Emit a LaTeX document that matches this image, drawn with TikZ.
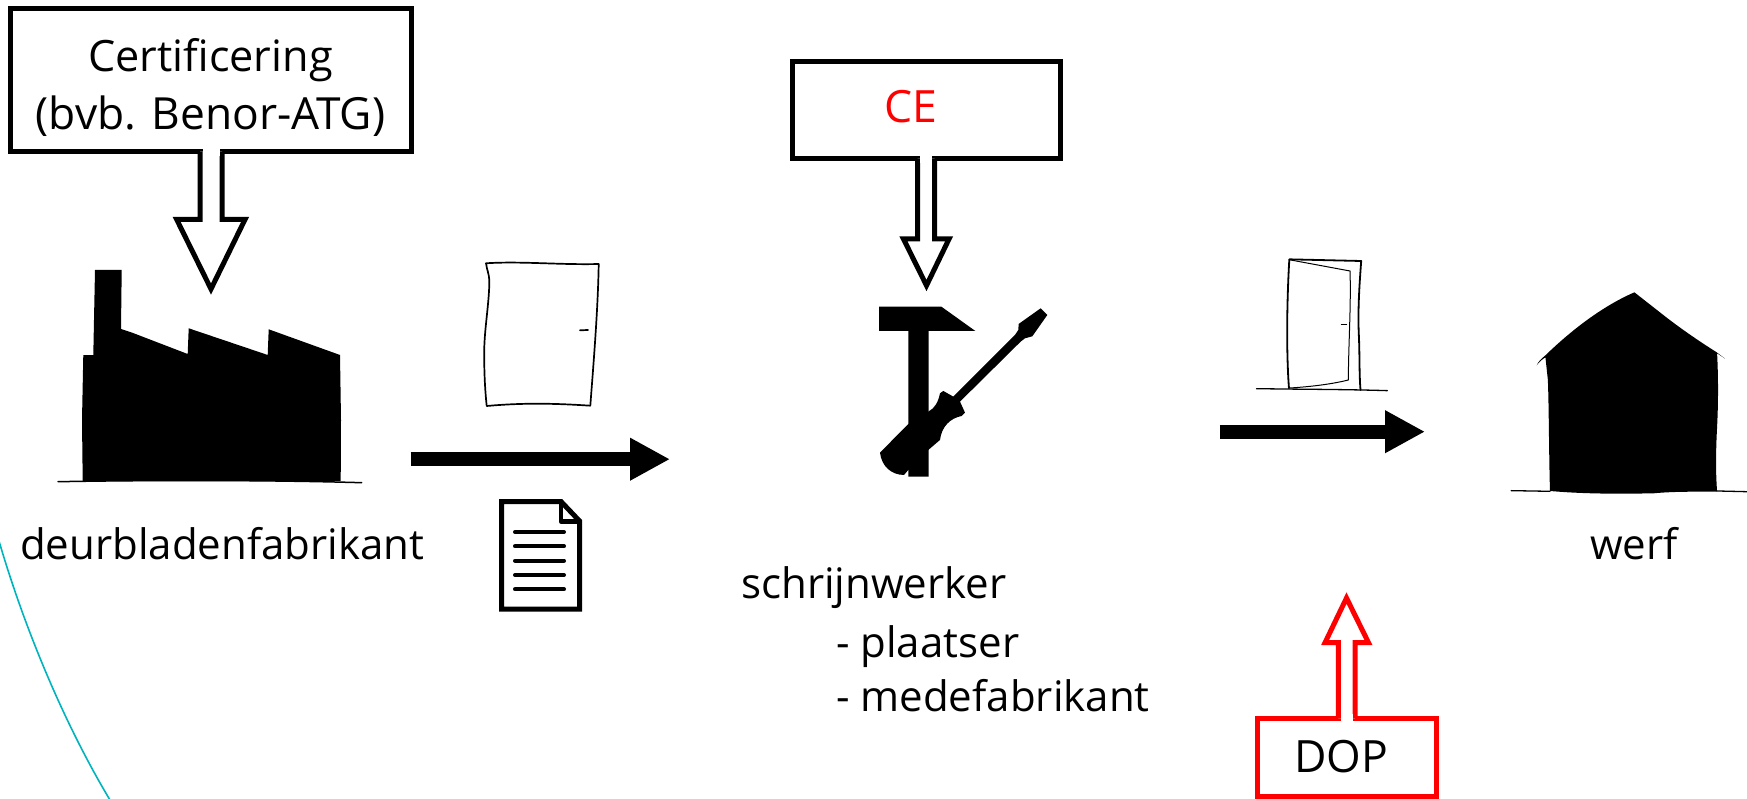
\documentclass[tikz,border=0pt]{standalone}
\usepackage{fontspec}
\setmainfont{Open Sans}
\usetikzlibrary{arrows.meta,calc}
\definecolor{arcteal}{HTML}{00B4BE}
\tikzset{
  calloutbox/.style={draw=#1,line width=5pt,fill=white,inner sep=0pt,outer sep=0pt},
  hollowarrow/.style={draw=#1,line width=5pt,fill=white,miter limit=10,line join=miter},
  flowarrow/.style={line width=13.6pt,-{Triangle[length=40pt,width=40pt]},black},
  labeltext/.style={inner sep=0pt,anchor=base west,font=\fontsize{42}{50}\selectfont},
  labelmid/.style={inner sep=0pt,anchor=base,font=\fontsize{44.5}{50}\selectfont},
  glyph/.style={fill=black,draw=none},
  sketch/.style={draw=black,line width=#1,line join=round,line cap=round,fill=none}
}
\begin{document}
\begin{tikzpicture}[x=1pt,y=-1pt]
\useasboundingbox (0,0) rectangle (1747,799);
% teal arc
\coordinate (arcstart) at (-1,541);
\coordinate (arcend) at (110,800);
\draw[arcteal,line width=1.6pt] (arcstart) .. controls (25,630) and (65,725) .. (arcend);

% Certification callout
\node[calloutbox=black,minimum width=400.5pt,minimum height=143pt] (cert) at (210.75,80) {};
\coordinate (certtip) at (211,289);
\draw[hollowarrow=black] (200,0 |- cert.south) -- (200,219.5) -- (176.7,219.5) -- (certtip) -- (245,219.5) -- (222,219.5) -- (222,0 |- cert.south);
\fill[white] (202.5,147) rectangle (219.5,156);
\node[labelmid,font=\fontsize{43.2}{50}\selectfont] (certa) at (210.5,72) {Certificering};
\node[labelmid,font=\fontsize{44.3}{50}\selectfont] (certb) at (210.5,130) {(bvb. Benor-ATG)};

% CE callout
\node[calloutbox=black,minimum width=268.5pt,minimum height=97pt] (ce) at (926.25,110) {};
\coordinate (cetip) at (926.5,285.5);
\draw[hollowarrow=black] (917.7,0 |- ce.south) -- (917.7,239) -- (903.5,239) -- (cetip) -- (949,239) -- (934.7,239) -- (934.7,0 |- ce.south);
\fill[white] (920.2,154) rectangle (932.2,163);
\node[labelmid,text=red] (celabel) at (911,123) {CE};

% DOP callout
\node[calloutbox=red,minimum width=179.8pt,minimum height=77.5pt] (dop) at (1346.9,757.25) {};
\coordinate (doptip) at (1346.5,598);
\draw[hollowarrow=red] (1338.3,0 |- dop.north) -- (1338.3,642.7) -- (1325,642.7) -- (doptip) -- (1368.5,642.7) -- (1355,642.7) -- (1355,0 |- dop.north);
\fill[white] (1340.8,714) rectangle (1352.5,723);
\node[labelmid] (doplabel) at (1341,772) {DOP};

% Factory
\fill[glyph] (82.7,481) -- (82,420) -- (83.3,355) -- (93.3,355) -- (95,270) -- (121.7,270) -- (121,329) -- (133,333) -- (187.7,354) -- (188.7,328.3) -- (250,349) -- (267.7,355) -- (268.7,329.3) -- (340,355) -- (341,420) -- (340.7,481) -- cycle;
\draw[sketch=1.5pt] (58,481.7) .. controls (150,480) and (270,480) .. (361.7,482.7);

% Bare door leaf
\draw[sketch=1.7pt] (486,263.3) .. controls (520,261) and (560,265) .. (598.7,264) .. controls (598,310) and (593,370) .. (590.3,405.7) .. controls (550,403) and (520,403) .. (486.7,406) .. controls (484.5,385) and (484,365) .. (484.3,346.7) .. controls (485,325) and (489.5,300) .. (489.3,280) .. controls (489,274) and (487,270) .. (486,263.3) -- cycle;
\draw[sketch=1.7pt] (580,330.3) -- (588,330);

% Document icon
\draw[black,line width=5pt,miter limit=10] (501.5,609) -- (501.5,501.5) -- (561,501.5) -- (579.5,521) -- (579.5,609) -- cycle;
\draw[black,line width=4.5pt,line join=round] (561,501.5) -- (561,521.5) -- (579.5,521.5);
\foreach \yy in {532,546.3,560.7,575,589.3}
  \draw[black,line width=4pt,line cap=round] (515,\yy) -- (564,\yy);

% Flow arrows
\coordinate (flowa) at (410.7,459.2);
\coordinate (flowb) at (670,459.2);
\draw[flowarrow] (flowa) -- (flowb);
\coordinate (flowc) at (1219.9,431.7);
\coordinate (flowd) at (1425,431.7);
\draw[flowarrow] (flowc) -- (flowd);

% Hammer and screwdriver
\begin{scope}[xshift=780pt,yshift=-40pt,x=0.3333pt,y=-0.3333pt]
\fill[glyph] (297,800) -- (484,800) -- (586,873) -- (446,873) -- (446,1310) -- (385,1310) -- (385,873) -- (297,873) -- cycle;
\fill[glyph] (782,805) -- (802,825) -- (757,889) -- (735,895) -- (722,905) -- (540,1085) -- (555,1118) -- (545,1128) .. controls (510,1135) and (485,1160) .. (480,1200) -- (445,1230) -- (385,1290) -- (372,1305) .. controls (335,1305) and (305,1280) .. (300,1238) -- (385,1152) -- (445,1115) .. controls (465,1105) and (475,1085) .. (480,1060) -- (490,1053) -- (520,1070) -- (705,885) -- (715,870) -- (716,852) -- cycle;
\end{scope}

% Door in frame and house
\begin{scope}[xshift=1200pt,yshift=-240pt,x=0.3489pt,y=-0.3333pt]
\draw[sketch=1.8pt] (255,445) .. controls (248,350) and (248,200) .. (256,58) -- (462,63) .. controls (458,120) and (452,200) .. (455,280) .. controls (458,340) and (456,400) .. (460,450);
\draw[sketch=1pt] (260,60) -- (430,93) .. controls (433,200) and (426,300) .. (425,420) .. controls (380,432) and (320,440) .. (258,444);
\draw[sketch=1pt] (405,253) -- (420,253);
\draw[sketch=1.3pt] (162,446) .. controls (280,448) and (420,448) .. (537,452);
\fill[glyph] (1003,753) .. controls (1000,640) and (1000,500) .. (997,420) -- (990,352) .. controls (980,358) and (970,368) .. (965,376) .. controls (968,366) and (980,355) .. (990,346) .. controls (1060,275) and (1150,200) .. (1245,157) -- (1340,235) .. controls (1390,275) and (1440,310) .. (1478,335) -- (1505,356) -- (1482,340) .. controls (1486,420) and (1485,500) .. (1482,560) .. controls (1478,640) and (1478,700) .. (1482,755) .. controls (1400,755) and (1350,755) .. (1300,760) .. controls (1200,762) and (1100,762) .. (1003,753) -- cycle;
\draw[sketch=1.3pt] (892,752) -- (1003,754);
\draw[sketch=1.3pt] (1482,753) -- (1641,757);
\end{scope}

% Labels
\node[labeltext] (fablabel) at (20,559) {deurbladenfabrikant};
\node[labeltext] (werflabel) at (1590,559) {werf};
\node[labeltext] (schrlabel) at (741,598) {schrijnwerker};
\node[labeltext] (plaatslabel) at (836,657) {- plaatser};
\node[labeltext] (medelabel) at (836,711) {- medefabrikant};
\end{tikzpicture}
\end{document}
